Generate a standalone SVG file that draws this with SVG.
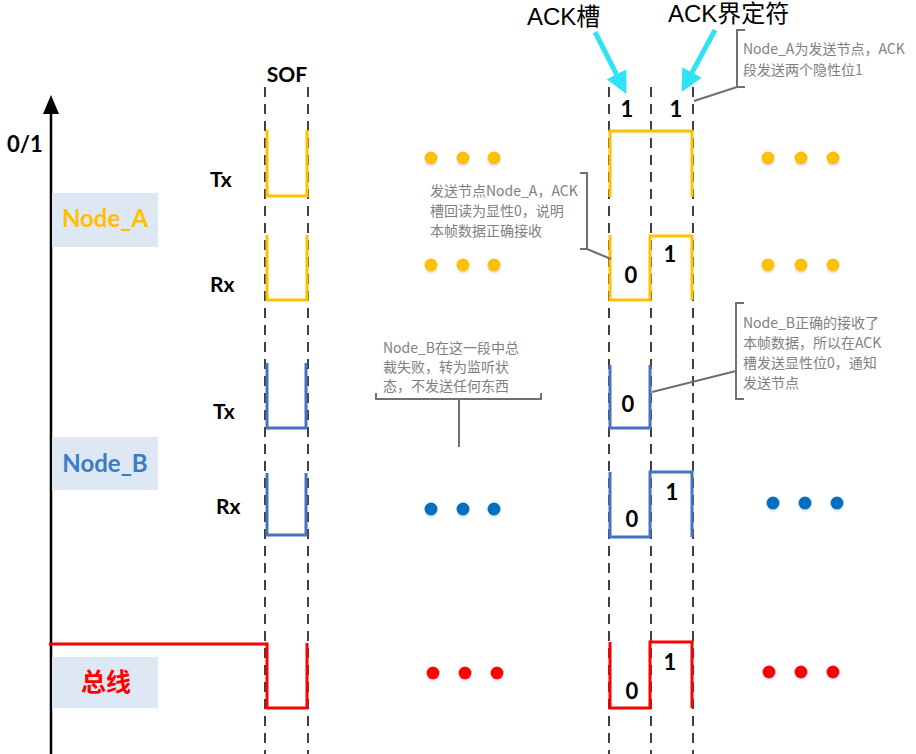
<svg xmlns="http://www.w3.org/2000/svg" width="916" height="754" viewBox="0 0 916 754">
<style>
.lbl{font-family:Lato,"Liberation Sans","Noto Sans CJK SC",sans-serif;font-weight:bold;fill:#000}
.num{font-family:Lato,"Liberation Sans",sans-serif;font-weight:bold;font-size:22px;fill:#000;text-anchor:middle}
.note{font-family:"Noto Sans CJK SC","Noto Sans",sans-serif;font-size:14px;fill:#808080}
.dash{stroke:#404040;stroke-width:2;stroke-dasharray:10 7;fill:none}
.sigA{stroke:#FFC000;stroke-width:3;fill:none}
.sigB{stroke:#4472C4;stroke-width:3;fill:none}
.sigR{stroke:#FF0000;stroke-width:3;fill:none}
.brk{stroke:#707070;stroke-width:2;fill:none}
.box{fill:#DEE8F4}
.ack{font-family:"Liberation Sans","Noto Sans CJK SC",sans-serif;font-size:24px;fill:#000}
.cy{stroke:#2FE3F3;stroke-width:5;fill:none}
</style>
<defs>
<marker id="ah" viewBox="0 0 20 20" markerWidth="22" markerHeight="22" markerUnits="userSpaceOnUse" refX="10" refY="10" orient="auto">
<path d="M0,0 L20,10 L0,20 z" fill="#2FE3F3"/>
</marker>
<filter id="sh" x="-50%" y="-50%" width="200%" height="200%">
<feDropShadow dx="0" dy="1.5" stdDeviation="1.2" flood-color="#9CC3E6" flood-opacity="0.6"/>
</filter>
</defs>
<rect width="916" height="754" fill="#fff"/>

<g id="axis">
<line x1="51" y1="108" x2="51" y2="754" stroke="#000" stroke-width="2.5"/>
<polygon points="51,95 43,114 59,114" fill="#000"/>
<text class="lbl" x="7" y="152" font-size="22">0/1</text>
</g>

<g id="node_a">
<rect class="box" x="52" y="193" width="106" height="54"/>
<text class="lbl" x="105" y="227" font-size="24" text-anchor="middle" style="fill:#FFC000">Node_A</text>
<text class="lbl" x="210" y="187" font-size="21">Tx</text>
<text class="lbl" x="210" y="292" font-size="21">Rx</text>
</g>
<g id="node_b">
<rect class="box" x="52" y="437" width="106" height="53"/>
<text class="lbl" x="105" y="472" font-size="24" text-anchor="middle" style="fill:#3D7CC4">Node_B</text>
<text class="lbl" x="213" y="419" font-size="21">Tx</text>
<text class="lbl" x="216" y="514" font-size="21">Rx</text>
</g>
<g id="bus">
<rect class="box" x="52" y="657" width="106" height="51"/>
<text x="106" y="691" font-size="25" text-anchor="middle" font-family="'Noto Sans CJK SC',sans-serif" font-weight="bold" fill="#FF0000">总线</text>
</g>

<g id="grid">
<line class="dash" x1="265" y1="87" x2="265" y2="754"/>
<line class="dash" x1="308" y1="87" x2="308" y2="754"/>
<line class="dash" x1="609" y1="87" x2="609" y2="754"/>
<line class="dash" x1="651" y1="87" x2="651" y2="754"/>
<line class="dash" x1="693" y1="87" x2="693" y2="754"/>
<text class="lbl" x="287" y="82" font-size="21" text-anchor="middle">SOF</text>
</g>

<g id="signals">
<path class="sigA" d="M267,130 V196 H307 V130"/>
<path class="sigA" d="M267,235 V300 H307 V235"/>
<path class="sigB" d="M267,363 V428 H306 V363"/>
<path class="sigB" d="M267,473 V535 H306 V473"/>
<path class="sigR" d="M49,644 H267 V708 H307 V643"/>
<path class="sigA" d="M610,197 V131 H692 V197"/>
<path class="sigA" d="M610,235 V300 H650 V236 H692 V300"/>
<path class="sigB" d="M610,365 V428 H650 V365"/>
<path class="sigB" d="M610,472 V537 H650 V472 H692 V537"/>
<path class="sigR" d="M610,642 V708 H650 V642 H692 V708"/>
<text class="num" x="627" y="117">1</text>
<text class="num" x="676" y="117">1</text>
<text class="num" x="631" y="283">0</text>
<text class="num" x="670" y="262">1</text>
<text class="num" x="628" y="412">0</text>
<text class="num" x="632" y="527">0</text>
<text class="num" x="672" y="500">1</text>
<text class="num" x="632" y="699">0</text>
<text class="num" x="670" y="670">1</text>
</g>

<g id="dots" filter="url(#sh)">
<g fill="#FFC000">
<circle cx="431" cy="158" r="6.5"/><circle cx="463" cy="158" r="6.5"/><circle cx="494" cy="158" r="6.5"/>
<circle cx="768" cy="158" r="6.5"/><circle cx="801" cy="158" r="6.5"/><circle cx="833" cy="158" r="6.5"/>
<circle cx="431" cy="265" r="6.5"/><circle cx="463" cy="265" r="6.5"/><circle cx="494" cy="265" r="6.5"/>
<circle cx="768" cy="265" r="6.5"/><circle cx="801" cy="265" r="6.5"/><circle cx="833" cy="265" r="6.5"/>
</g>
<g fill="#0070C0">
<circle cx="431" cy="509" r="6.5"/><circle cx="463" cy="509" r="6.5"/><circle cx="494" cy="509" r="6.5"/>
<circle cx="773" cy="503" r="6.5"/><circle cx="805" cy="503" r="6.5"/><circle cx="837" cy="503" r="6.5"/>
</g>
<g fill="#FF0000">
<circle cx="433" cy="673" r="6.5"/><circle cx="465" cy="673" r="6.5"/><circle cx="497" cy="673" r="6.5"/>
<circle cx="769" cy="672" r="6.5"/><circle cx="801" cy="672" r="6.5"/><circle cx="833" cy="672" r="6.5"/>
</g>
</g>

<g id="ack_labels">
<text class="ack" x="527" y="25">ACK槽</text>
<text class="ack" x="668" y="22">ACK界定符</text>
</g>

<g id="connectors">
<line class="cy" x1="595" y1="32" x2="621.5" y2="84.1" marker-end="url(#ah)"/>
<line class="cy" x1="715" y1="30" x2="686.8" y2="82.2" marker-end="url(#ah)"/>
<path class="brk" d="M745,30 H737 V87 H745"/>
<line class="brk" x1="737" y1="87" x2="694" y2="101"/>
<path class="brk" d="M580,173 H587 V249 H580"/>
<line class="brk" x1="587" y1="249" x2="611" y2="259"/>
<path class="brk" d="M376,393 V399 H541 V393"/>
<line class="brk" x1="459" y1="399" x2="459" y2="447"/>
<path class="brk" d="M744,303 H736 V399 H744"/>
<line class="brk" x1="736" y1="371" x2="652" y2="392"/>
</g>

<g id="note_a">
<text class="note" x="743" y="54">Node_A为发送节点，ACK</text>
<text class="note" x="743" y="75">段发送两个隐性位1</text>
</g>
<g id="note_ack_a">
<text class="note" x="430" y="196">发送节点Node_A，ACK</text>
<text class="note" x="430" y="216">槽回读为显性0，说明</text>
<text class="note" x="430" y="236">本帧数据正确接收</text>
</g>
<g id="note_b_lost">
<text class="note" x="383" y="353">Node_B在这一段中总</text>
<text class="note" x="383" y="372">裁失败，转为监听状</text>
<text class="note" x="383" y="391">态，不发送任何东西</text>
</g>
<g id="note_b_ack">
<text class="note" x="743" y="328">Node_B正确的接收了</text>
<text class="note" x="743" y="348">本帧数据，所以在ACK</text>
<text class="note" x="743" y="368">槽发送显性位0，通知</text>
<text class="note" x="743" y="388">发送节点</text>
</g>
</svg>
